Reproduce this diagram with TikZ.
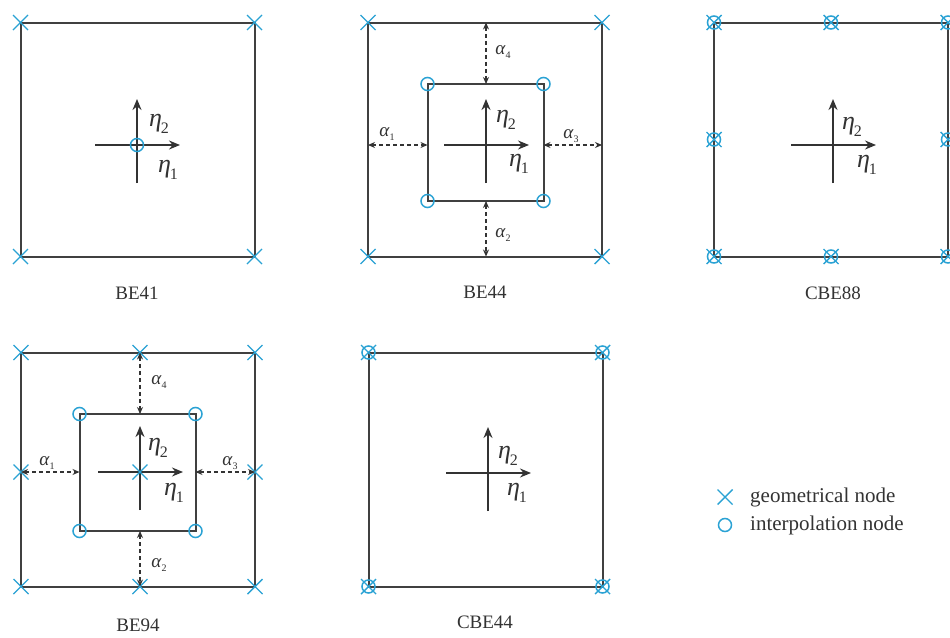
\documentclass[tikz,border=0pt]{standalone}
\usepackage{fontspec}
\setmainfont{Liberation Serif}
\usetikzlibrary{arrows.meta,shapes.misc}
\definecolor{nodeblue}{HTML}{2AA2D4}
\definecolor{ink}{HTML}{333333}
\definecolor{frame}{HTML}{404040}
\newcommand\myeta[1]{{\itshape η}\kern-0.04em\raisebox{-0.28em}{\fontsize{16}{18}\selectfont #1}}
\newcommand\myalpha[1]{{\itshape α}\kern0.02em\raisebox{-0.2em}{\fontsize{10}{12}\selectfont #1}}
\tikzset{
  sq/.style={draw=frame, line width=2pt, minimum width=234pt, minimum height=234pt, inner sep=0pt, outer sep=0pt},
  isq/.style={draw=frame, line width=2pt, minimum width=116pt, minimum height=117pt, inner sep=0pt, outer sep=0pt},
  gx/.style={cross out, draw=nodeblue, line width=1.4pt, minimum size=15pt, inner sep=0pt, outer sep=0pt},
  ip/.style={circle, draw=nodeblue, line width=1.5pt, minimum size=13pt, inner sep=0pt, outer sep=0pt},
  axisarrow/.style={draw=ink, line width=1.6pt, -{Stealth[length=11pt,width=9pt]}},
  dimarrow/.style={draw=ink, line width=1.1pt, dash pattern=on 4pt off 3pt, {Stealth[length=7pt,width=6pt]}-{Stealth[length=7pt,width=6pt]}},
  lab/.style={font=\fontsize{19}{21}\selectfont, text=ink, inner sep=0pt},
  leg/.style={font=\fontsize{21}{23}\selectfont, text=ink, inner sep=0pt, anchor=west},
  eta/.style={font=\fontsize{26}{28}\selectfont, text=ink, inner sep=0pt},
  alp/.style={font=\fontsize{19}{21}\selectfont, text=ink, inner sep=0pt},
}
\newcommand\axes[3]{%
  \coordinate (#1c) at (#2,#3);
  \coordinate (#1l) at (#2-42,#3);
  \coordinate (#1r) at (#2+43,#3);
  \coordinate (#1t) at (#2,#3-46);
  \coordinate (#1b) at (#2,#3+38);
  \draw[axisarrow] (#1l) -- (#1r);
  \draw[axisarrow] (#1b) -- (#1t);
}
\begin{document}
\begin{tikzpicture}[x=1pt,y=-1pt]
\clip (0,0) rectangle (950,637);
\fill[white] (0,0) rectangle (950,637);

% ---------- BE41 ----------
\node[sq] (s1) at (137.5,139.5) {};
\axes{a1}{137}{145}
\foreach \p in {north west,north east,south west,south east}
  \node[gx] at (s1.\p) {};
\node[ip] (s1i) at (a1c) {};
\node[eta] (s1e2) at (159,124) {\myeta{2}};
\node[eta] (s1e1) at (168,170) {\myeta{1}};
\node[lab] (s1n) at (137,293) {BE41};

% ---------- BE44 ----------
\node[sq] (s2) at (485,139.5) {};
\node[isq] (i2) at (485.5,142.5) {};
\axes{a2}{486}{145}
\foreach \p in {north west,north east,south west,south east}{
  \node[gx] at (s2.\p) {};
  \node[ip] at (i2.\p) {};
}
\draw[dimarrow] (s2.west |- a2c) -- (i2.west |- a2c);
\draw[dimarrow] (i2.east |- a2c) -- (s2.east |- a2c);
\draw[dimarrow] (s2.north -| a2c) -- (i2.north -| a2c);
\draw[dimarrow] (i2.south -| a2c) -- (s2.south -| a2c);
\node[alp] (s2a1) at (387,134) {\myalpha{1}};
\node[alp] (s2a3) at (571,136) {\myalpha{3}};
\node[alp] (s2a4) at (503,52) {\myalpha{4}};
\node[alp] (s2a2) at (503,235) {\myalpha{2}};
\node[eta] (s2e2) at (506,120) {\myeta{2}};
\node[eta] (s2e1) at (519,164) {\myeta{1}};
\node[lab] (s2n) at (485,292) {BE44};

% ---------- CBE88 ----------
\node[sq] (s3) at (831,139.5) {};
\axes{a3}{833}{145}
\foreach \p in {north west,north,north east,east,south east,south,south west,west}{
  \node[gx] at (s3.\p) {};
  \node[ip] at (s3.\p) {};
}
\node[eta] (s3e2) at (852,127) {\myeta{2}};
\node[eta] (s3e1) at (867,165) {\myeta{1}};
\node[lab] (s3n) at (833,293) {CBE88};

% ---------- BE94 ----------
\node[sq] (s4) at (138,469.5) {};
\node[isq] (i4) at (137.5,472.5) {};
\axes{a4}{140}{472}
\foreach \p in {north west,north east,south west,south east}{
  \node[gx] at (s4.\p) {};
  \node[ip] at (i4.\p) {};
}
\node[gx] (m4n) at (s4.north -| a4c) {};
\node[gx] (m4s) at (s4.south -| a4c) {};
\node[gx] (m4w) at (s4.west |- a4c) {};
\node[gx] (m4e) at (s4.east |- a4c) {};
\node[gx] (m4c) at (a4c) {};
\draw[dimarrow] (m4w.center) -- (i4.west |- a4c);
\draw[dimarrow] (i4.east |- a4c) -- (m4e.center);
\draw[dimarrow] (m4n.center) -- (i4.north -| a4c);
\draw[dimarrow] (i4.south -| a4c) -- (m4s.center);
\node[alp] (s4a1) at (47,463) {\myalpha{1}};
\node[alp] (s4a3) at (230,463) {\myalpha{3}};
\node[alp] (s4a4) at (159,382) {\myalpha{4}};
\node[alp] (s4a2) at (159,565) {\myalpha{2}};
\node[eta] (s4e2) at (158,448) {\myeta{2}};
\node[eta] (s4e1) at (174,493) {\myeta{1}};
\node[lab] (s4n) at (138,625) {BE94};

% ---------- CBE44 ----------
\node[sq] (s5) at (485.5,469.5) {};
\axes{a5}{488}{473}
\foreach \p in {north west,north east,south west,south east}{
  \node[gx] at (s5.\p) {};
  \node[ip] at (s5.\p) {};
}
\node[eta] (s5e2) at (508,456) {\myeta{2}};
\node[eta] (s5e1) at (517,493) {\myeta{1}};
\node[lab] (s5n) at (485,622) {CBE44};

% ---------- legend ----------
\node[gx] (lg1) at (725,497) {};
\node[ip] (lg2) at (725,525) {};
\node[leg] (lt1) at (750,497) {geometrical node};
\node[leg] (lt2) at (750,525) {interpolation node};
\end{tikzpicture}
\end{document}
